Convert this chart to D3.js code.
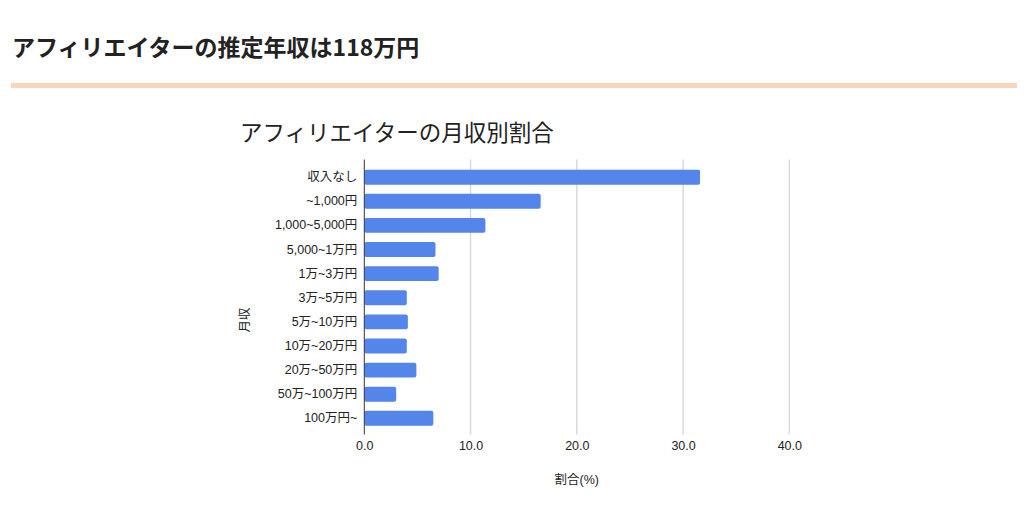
<!DOCTYPE html>
<html>
<head>
<meta charset="utf-8">
<script src="https://cdn.jsdelivr.net/npm/d3@7"></script>
<style>
  html, body { margin: 0; padding: 0; background: #fff; }
  svg { display: block; font-family: "Noto Sans CJK JP", "Noto Sans", sans-serif; }
</style>
</head>
<body>
<div id="chart"></div>
<script>
const pageTitle = "アフィリエイターの推定年収は118万円";
const chartTitle = "アフィリエイターの月収別割合";
const categories = ["収入なし", "~1,000円", "1,000~5,000円", "5,000~1万円", "1万~3万円", "3万~5万円",
  "5万~10万円", "10万~20万円", "20万~50万円", "50万~100万円", "100万円~"];
const shares = [31.6, 16.6, 11.4, 6.7, 7.0, 4.0, 4.1, 4.0, 4.9, 3.0, 6.5];
const xTicks = [0, 10, 20, 30, 40];
const xTitle = "割合(%)";
const yTitle = "月収";

const width = 1024;
const height = 506;
const labelFont = "\"Liberation Sans\", \"Noto Sans CJK JP\", sans-serif";

const svg = d3.select("#chart")
  .append("svg")
  .attr("width", width)
  .attr("height", height);

// header
svg.append("text")
  .attr("x", 12)
  .attr("y", 56)
  .attr("font-size", 23)
  .attr("font-weight", "bold")
  .attr("fill", "#222")
  .text(pageTitle);

svg.append("rect")
  .attr("x", 11)
  .attr("y", 83)
  .attr("width", 1006)
  .attr("height", 5)
  .attr("fill", "#f8d6bc");

svg.append("text")
  .attr("x", 240)
  .attr("y", 141)
  .attr("font-size", 22.5)
  .attr("fill", "#222")
  .text(chartTitle);

// scales
const plotTop = 159.5;
const plotBottom = 434.5;

const x = d3.scaleLinear()
  .domain([0, 40])
  .range([364.3, 789.3]);

const y = d3.scaleBand()
  .domain(categories)
  .range([165.1, 430.4])
  .paddingInner(0.38)
  .paddingOuter(0.19);

// grid
svg.append("g")
  .selectAll("line")
  .data(xTicks.slice(1))
  .join("line")
  .attr("x1", d => x(d))
  .attr("x2", d => x(d))
  .attr("y1", plotTop)
  .attr("y2", plotBottom)
  .attr("stroke", "#d9d9d9")
  .attr("stroke-width", 1.5);

// bars
svg.append("g")
  .selectAll("rect")
  .data(shares)
  .join("rect")
  .attr("x", x(0))
  .attr("y", (d, i) => y(categories[i]))
  .attr("width", d => x(d) - x(0))
  .attr("height", y.bandwidth())
  .attr("rx", 2)
  .attr("fill", "#5385ea");

// x axis labels
const xAxis = d3.axisBottom(x)
  .tickValues(xTicks)
  .tickSize(0)
  .tickPadding(0)
  .tickFormat(d3.format(".1f"));

svg.append("g")
  .attr("transform", `translate(0,${plotBottom + 7})`)
  .call(xAxis)
  .call(g => g.select(".domain").remove())
  .call(g => g.selectAll("text")
    .attr("font-family", labelFont)
    .attr("font-size", 12.5)
    .attr("fill", "#222"));

// y axis labels
const yAxis = d3.axisLeft(y)
  .tickSize(0)
  .tickPadding(7);

svg.append("g")
  .attr("transform", `translate(${x(0)},0)`)
  .call(yAxis)
  .call(g => g.select(".domain").remove())
  .call(g => g.selectAll("text")
    .attr("font-family", labelFont)
    .attr("font-size", 12.5)
    .attr("fill", "#222"));

// zero line
svg.append("line")
  .attr("x1", x(0))
  .attr("x2", x(0))
  .attr("y1", plotTop)
  .attr("y2", plotBottom)
  .attr("stroke", "#333")
  .attr("stroke-width", 1);

// axis titles
svg.append("text")
  .attr("x", (x(0) + x(40)) / 2)
  .attr("y", 484)
  .attr("text-anchor", "middle")
  .attr("font-family", labelFont)
  .attr("font-size", 12.5)
  .attr("fill", "#222")
  .text(xTitle);

svg.append("text")
  .attr("transform", `translate(249,${(plotTop + plotBottom) / 2 + 23}) rotate(-90)`)
  .attr("text-anchor", "middle")
  .attr("font-size", 12.5)
  .attr("fill", "#222")
  .text(yTitle);
</script>
</body>
</html>
